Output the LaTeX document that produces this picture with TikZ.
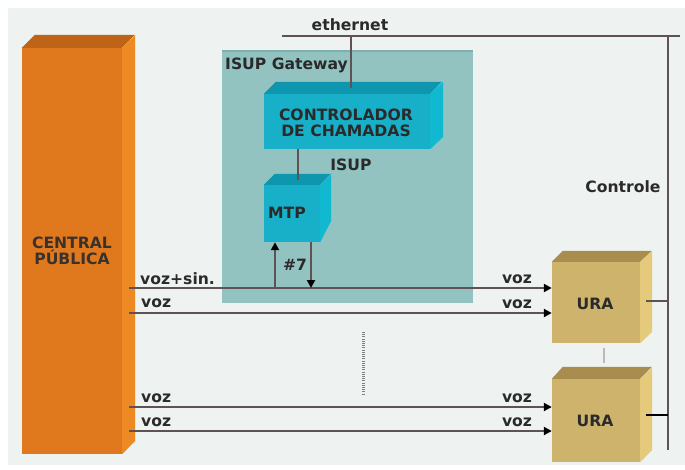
\documentclass[tikz,border=0pt]{standalone}
\usepackage{fontspec}
\setmainfont{DejaVu Sans}
\usetikzlibrary{arrows.meta}
\definecolor{bgc}{HTML}{EEF2F0}
\definecolor{orfront}{HTML}{E0781E}
\definecolor{ortop}{HTML}{BE6416}
\definecolor{orside}{HTML}{EE8A24}
\definecolor{gwfill}{HTML}{93C3C1}
\definecolor{gwedge}{HTML}{7FAFAD}
\definecolor{cyfront}{HTML}{17B0C8}
\definecolor{cytop}{HTML}{0E96AE}
\definecolor{cyside}{HTML}{10B8D0}
\definecolor{urfront}{HTML}{CDB36C}
\definecolor{urtop}{HTML}{A88D4E}
\definecolor{urside}{HTML}{E4CA7A}
\definecolor{wire}{HTML}{5E5254}
\definecolor{txt}{HTML}{2A2A2A}
\tikzset{
  lbl/.style={font=\fontsize{15.6}{17}\selectfont\bfseries, text=txt, inner sep=0pt},
  wireline/.style={draw=wire, line width=2pt},
  sigarrow/.style={wireline, -{Triangle[length=8pt,width=8pt,fill=black,color=black]}},
}
\begin{document}
\begin{tikzpicture}[x=1pt,y=-1pt]
\useasboundingbox (0,0) rectangle (685,469);
\fill[white] (0,0) rectangle (685,469);
\fill[bgc] (8,8) rectangle (685,465);

% ISUP gateway panel
\node[fill=gwfill, inner sep=0pt, minimum width=251pt, minimum height=252pt, anchor=north west] (gw) at (222,51) {};
\draw[gwedge, line width=1.5pt] (gw.north west) -- (gw.north east);
\node[lbl, anchor=west] (gwl) at (225,65) {ISUP Gateway};

% ethernet / control bus
\coordinate (ethA) at (282,36);
\coordinate (ethB) at (680,36);
\coordinate (ethJ) at (351,36);
\coordinate (busT) at (668,36);
\coordinate (busB) at (668,450);
\node[lbl] (ethl) at (350,25) {ethernet};
\draw[wireline] (ethA) -- (ethB);
\draw[wireline] (busT) -- (busB);
\node[lbl] (ctl) at (623,187) {Controle};

% Central publica cuboid
\node[fill=orfront, inner sep=0pt, minimum width=100pt, minimum height=406pt] (central) at (72,251) {};
\fill[ortop] (central.north west) -- ++(13,-13) -- ++(100,0) -- (central.north east) -- cycle;
\fill[orside] (central.north east) -- ++(13,-13) -- ++(0,406) -- (central.south east) -- cycle;
\node[lbl, align=center, text=txt!90!brown] (centrall) at (72,251) {CENTRAL\\[-1pt]PÚBLICA};

% Controlador cuboid
\node[fill=cyfront, inner sep=0pt, minimum width=166pt, minimum height=55pt] (ctrl) at (347,121.5) {};
\fill[cytop] (ctrl.north west) -- ++(12,-12) -- ++(166,0) -- (ctrl.north east) -- cycle;
\fill[cyside] (ctrl.north east) -- ++(13,-12) -- ++(0,55) -- (ctrl.south east) -- cycle;
\node[lbl, align=center] (ctrll) at (346,123) {CONTROLADOR\\[-1pt]DE CHAMADAS};
\draw[wireline] (ethJ) -- (351,88);

% MTP cuboid
\node[fill=cyfront, inner sep=0pt, minimum width=56pt, minimum height=57pt] (mtp) at (292,213.5) {};
\fill[cytop] (mtp.north west) -- ++(11,-11) -- ++(56,0) -- (mtp.north east) -- cycle;
\fill[cyside] (mtp.north east) -- ++(11,-11) -- ++(0,47) -- (mtp.south east) -- cycle;
\node[lbl] (mtpl) at (287,213) {MTP};
\draw[wireline] (ctrl.south -| 298,0) -- (298,180);
\node[lbl] (isupl) at (351,165) {ISUP};

% URA cuboids
\node[fill=urfront, inner sep=0pt, minimum width=88pt, minimum height=81pt] (ura1) at (596,302.5) {};
\fill[urtop] (ura1.north west) -- ++(11,-11) -- ++(89,0) -- (ura1.north east) -- cycle;
\fill[urside] (ura1.north east) -- ++(12,-11) -- ++(0,81) -- (ura1.south east) -- cycle;
\node[lbl] (ura1l) at (595,304) {URA};

\node[fill=urfront, inner sep=0pt, minimum width=88pt, minimum height=83pt] (ura2) at (596,420.5) {};
\fill[urtop] (ura2.north west) -- ++(11,-12) -- ++(89,0) -- (ura2.north east) -- cycle;
\fill[urside] (ura2.north east) -- ++(12,-12) -- ++(0,83) -- (ura2.south east) -- cycle;
\node[lbl] (ura2l) at (595,421) {URA};

\draw[gray!55, line width=2pt] (604,348) -- (604,363);
\draw[wire, line width=1.8pt] (646,301) -- (busT |- 0,301);
\draw[black, line width=1.3pt] (646,415) -- (busT |- 0,415);

% dotted separator
\draw[gray, line width=3pt, dash pattern=on 1pt off 1.2pt] (363,332) -- (363,395);

% voice / signalling lines
\coordinate (s1) at (129,288); \coordinate (s2) at (129,313);
\coordinate (s3) at (129,407); \coordinate (s4) at (129,431);
\draw[sigarrow] (s1) -- (ura1.west |- s1);
\draw[sigarrow] (s2) -- (ura1.west |- s2);
\draw[sigarrow] (s3) -- (ura2.west |- s3);
\draw[sigarrow] (s4) -- (ura2.west |- s4);

% #7 arrows
\coordinate (up0) at (275,288);
\coordinate (dn0) at (311,288);
\draw[sigarrow] (up0) -- (mtp.south -| up0);
\draw[sigarrow] (mtp.south -| dn0) -- (dn0);
\node[lbl] (n7) at (295,265) {\#7};

% labels
\node[lbl, anchor=west] (l1) at (140,279) {voz+sin.};
\node[lbl, anchor=west] (l2) at (141,303) {voz};
\node[lbl, anchor=west] (l3) at (141,398) {voz};
\node[lbl, anchor=west] (l4) at (141,422) {voz};
\node[lbl] (r1) at (517,279) {voz};
\node[lbl] (r2) at (517,304) {voz};
\node[lbl] (r3) at (517,398) {voz};
\node[lbl] (r4) at (517,422) {voz};
\end{tikzpicture}
\end{document}
